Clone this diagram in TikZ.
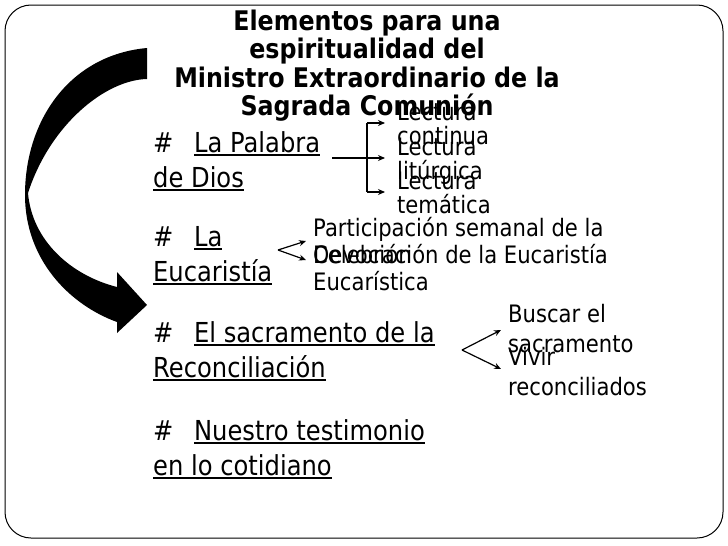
\documentclass[tikz,border=0pt]{standalone}
\usepackage{fontspec}
\setmainfont{DejaVu Sans}[FakeStretch=0.88]
\usetikzlibrary{arrows.meta,positioning}

\newcommand{\subraya}[1]{\setbox0=\hbox{#1}\rlap{\rule[-3.5pt]{\wd0}{1.3pt}}\box0}

\tikzset{
  titulo/.style={font=\fontsize{27}{28.5}\selectfont\bfseries, align=center, anchor=base, inner sep=0pt},
  tema/.style={font=\fontsize{27.5}{35}\selectfont, align=left, anchor=base west, inner sep=0pt},
  rama/.style={font=\fontsize{24}{#1}\selectfont, align=left, anchor=base west, inner sep=0pt},
  flecha/.style={-{Stealth[length=7pt,width=6pt]}, line width=1.2pt},
  linea/.style={line width=1.2pt}
}

\begin{document}
\begin{tikzpicture}[x=1pt,y=-1pt]
\useasboundingbox (0,0) rectangle (728,546);
\draw[line width=1pt, rounded corners=26pt] (5,5) rectangle (723,538);

% titulo (base = ultima linea)
\node[titulo] (titulo) at (367,115.5) {Elementos para una\\espiritualidad del\\Ministro Extraordinario de la\\Sagrada Comunión};

% flecha grande
\fill (147,48) .. controls (70,55) and (25,120) .. (25,195)
  .. controls (25,260) and (70,305) .. (117,322) -- (117,333) -- (147,305) -- (117,272) -- (117,287)
  .. controls (70,275) and (32,240) .. (28,193)
  .. controls (50,125) and (105,80) .. (147,79) -- cycle;

% temas
\node[tema] (palabra) at (153,187) {\#\hspace{0.75em}\subraya{La Palabra}\\\subraya{de Dios}};
\node[tema] (eucar) at (153,281) {\#\hspace{0.75em}\subraya{La}\\\subraya{Eucaristía}};
\node[tema] (recon) at (153,377) {\#\hspace{0.75em}\subraya{El sacramento de la}\\\subraya{Reconciliación}};
\node[tema] (testim) at (153,475) {\#\hspace{0.75em}\subraya{Nuestro testimonio}\\\subraya{en lo cotidiano}};

% ramas
\node[rama=24] (lect1) at (397,144) {Lectura\\continua};
\node[rama=24] (lect2) at (397,179) {Lectura\\litúrgica};
\node[rama=24] (lect3) at (397,213) {Lectura\\temática};
\node[rama=27] (part) at (313,263) {Participación semanal de la\\Celebración de la Eucaristía};
\node[rama=27] (devo) at (313,290) {Devoción\\Eucarística};
\node[rama=29.5] (buscar) at (508,352) {Buscar el\\sacramento};
\node[rama=29.5] (vivir) at (508,395) {Vivir\\reconciliados};

% conectores
\coordinate (pfork) at (367,158);
\coordinate (l1) at ([shift={(-12,-21)}]lect1.base west);
\coordinate (l2) at ([shift={(-12,-21)}]lect2.base west);
\coordinate (l3) at ([shift={(-12,-21)}]lect3.base west);
\draw[linea] ([xshift=12pt]palabra.east |- pfork) -- (pfork);
\draw[linea] (pfork |- l1) -- (pfork |- l3);
\draw[flecha] (pfork |- l1) -- (l1);
\draw[flecha] (pfork |- l2) -- (l2);
\draw[flecha] (pfork |- l3) -- (l3);

\coordinate (eapex) at (278,250);
\draw[flecha] (eapex) -- ([shift={(-7,-22)}]part.base west);
\draw[flecha] (eapex) -- ([shift={(-7,-30)}]devo.base west);

\coordinate (rapex) at (462,350);
\draw[flecha] (rapex) -- ([shift={(-7,-22)}]buscar.base west);
\draw[flecha] (rapex) -- ([shift={(-7,-26)}]vivir.base west);
\end{tikzpicture}
\end{document}
